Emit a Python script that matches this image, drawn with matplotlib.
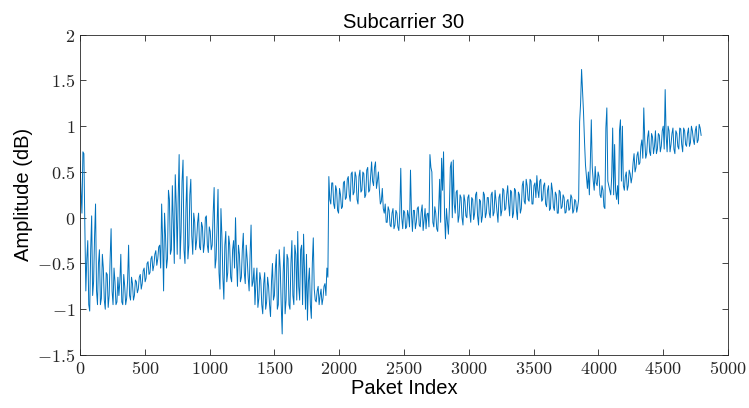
import numpy as np
import matplotlib.pyplot as plt
from matplotlib.ticker import FuncFormatter

# amplitude, one value every 15 packets ...
step = 15
amplitude = [
    0.62, 0.05, 0.70, -0.80, -0.25, -1.02, 0.02, -0.70, 0.15, -0.95,
    -0.35, -0.88, -0.55, -1.00, -0.62, -0.85, -0.12, -0.95, -0.70, -0.92,
    -0.85, -0.40, -0.95, -0.75, -0.88, -0.30, -0.90, -0.72, -0.85, -0.70,
    -0.78, -0.62, -0.72, -0.55, -0.66, -0.48, -0.60, -0.42, -0.52, -0.36,
    -0.45, -0.30, 0.15, -0.80, -0.20, -0.45, 0.20, -0.35, -0.05, 0.47,
    -0.40, 0.69, -0.15, 0.63, -0.50, 0.45, -0.30, 0.42, -0.40, -0.05,
    -0.25, 0.05, -0.35, -0.10, -0.28, 0.02, -0.38, -0.15, -0.30, 0.33,
    -0.45, 0.31, -0.78, -0.20, -0.89, -0.15, -0.60, -0.30, -0.70, -0.25,
    0.00, -0.75, -0.40, -0.65, -0.17, -0.72, -0.45, -0.80, -0.08, -0.70,
    -0.95, -0.55, -0.88, -0.68, -1.05, -0.60, -0.92, -0.75, -1.08, -0.50,
    -0.85, -0.40, -0.95, -0.55, -1.27, -0.32, -0.90, -0.45, -1.00, -0.25,
    -0.95, -0.40, -0.15, -0.90, -0.30, -0.18, -1.00, -1.12, -0.55, -1.10,
    -0.22, -0.90, -0.80, -0.95, -0.78, -0.88, -0.72, -0.55, 0.45, 0.15,
    0.38, 0.10, 0.30, 0.05, 0.25, 0.12, 0.40, 0.22, 0.45, 0.18,
    0.50, 0.28, 0.45, 0.15, 0.52, 0.30, 0.48, 0.25, 0.55, 0.30,
    0.61, 0.35, 0.61, 0.40, 0.30, 0.18, 0.10, 0.15, -0.05, 0.08,
    -0.10, 0.10, -0.08, 0.05, -0.14, 0.54, -0.12, 0.06, -0.10, 0.02,
    0.52, -0.15, 0.08, -0.05, 0.12, -0.10, 0.14, -0.02, -0.12, 0.05,
    0.69, 0.50, -0.10, 0.05, -0.15, 0.42, 0.65, 0.72, -0.23, -0.05,
    0.10, 0.61, 0.63, 0.05, 0.30, 0.02, 0.22, -0.08, 0.18, 0.00,
    0.25, -0.05, 0.20, 0.05, 0.28, -0.08, 0.18, 0.02, 0.25, 0.05,
    0.22, 0.00, 0.28, 0.06, 0.18, -0.05, 0.26, 0.08, 0.30, 0.10,
    0.35, 0.02, 0.28, 0.05, 0.30, -0.02, 0.25, 0.10, 0.40, 0.15,
    0.35, 0.18, 0.40, 0.15, 0.38, 0.46, 0.22, 0.42, 0.20, 0.38,
    0.12, 0.35, 0.10, 0.30, 0.08, 0.25, 0.05, 0.28, 0.12, 0.22,
    0.06, 0.20, 0.10, 0.22, 0.08, 0.18, 0.12, 1.05, 1.62, 1.15,
    0.58, 0.32, 0.25, 1.07, 0.40, 0.56, 0.35, 0.45, 0.22, 0.30,
    0.10, 1.20, 0.35, 0.25, 0.98, 0.80, 0.20, 0.15, 1.07, 1.00,
    0.30, 0.50, 0.35, 0.48, 0.45, 0.70, 0.55, 0.72, 0.60, 0.85,
    1.20, 0.65, 0.88, 0.72, 0.92, 0.70, 0.95, 0.75, 0.90, 0.78,
    1.00, 1.40, 0.72, 0.95, 0.80, 0.98, 0.70, 0.92, 0.75, 0.97,
    0.72, 0.95, 0.78, 0.98, 0.82, 0.95, 0.80, 1.00, 0.85, 0.98,
]
# ... and the values half way between them
amplitude_mid = [
    0.30, 0.72, -0.10, -0.45, -0.95, -0.35, -0.85, -0.20, -0.80, -0.50,
    -0.95, -0.40, -0.90, -0.60, -0.98, -0.45, -0.80, -0.55, -0.95, -0.65,
    -0.70, -0.92, -0.62, -0.95, -0.68, -0.85, -0.65, -0.90, -0.68, -0.82,
    -0.65, -0.78, -0.58, -0.70, -0.50, -0.62, -0.45, -0.58, -0.40, -0.52,
    -0.32, -0.55, -0.25, 0.05, -0.55, 0.30, -0.40, 0.35, -0.50, 0.15,
    0.20, -0.45, 0.40, -0.35, 0.10, -0.45, 0.25, -0.20, 0.05, -0.35,
    -0.05, -0.32, -0.05, -0.38, 0.00, -0.30, -0.10, -0.35, 0.05, -0.55,
    -0.10, -0.60, 0.10, -0.65, -0.30, -0.70, -0.20, -0.65, -0.35, -0.55,
    -0.45, -0.30, -0.70, -0.35, -0.60, -0.30, -0.65, -0.40, -0.75, -0.55,
    -0.70, -0.98, -0.60, -0.95, -0.72, -1.00, -0.65, -0.95, -0.70, -0.90,
    -0.55, -1.00, -0.35, -0.95, -0.60, -1.05, -0.40, -0.95, -0.50, -0.85,
    -0.30, -0.90, -0.75, -0.35, -0.95, -0.60, -0.40, -0.70, -0.95, -0.50,
    -0.78, -0.92, -0.75, -0.85, -0.95, -0.75, -0.85, -0.65, 0.20, 0.38,
    0.15, 0.35, 0.08, 0.32, 0.10, 0.38, 0.20, 0.42, 0.25, 0.48,
    0.25, 0.50, 0.20, 0.45, 0.28, 0.50, 0.22, 0.52, 0.28, 0.45,
    0.40, 0.55, 0.32, 0.50, 0.15, 0.32, 0.05, -0.05, 0.12, -0.08,
    0.05, -0.12, 0.08, -0.10, 0.06, 0.00, 0.08, -0.12, 0.08, -0.10,
    0.05, 0.08, -0.12, 0.10, -0.08, 0.06, -0.14, 0.10, 0.04, -0.10,
    0.55, -0.05, 0.12, -0.12, 0.10, -0.05, 0.30, 0.05, 0.10, -0.18,
    0.55, 0.00, 0.15, 0.28, -0.05, 0.25, 0.00, 0.25, 0.02, 0.22,
    0.05, 0.22, -0.02, 0.25, 0.02, 0.20, -0.05, 0.28, 0.00, 0.22,
    0.05, 0.25, 0.02, 0.30, 0.05, 0.22, 0.02, 0.32, 0.08, 0.25,
    0.15, 0.30, 0.00, 0.32, 0.08, 0.28, 0.05, 0.35, 0.18, 0.42,
    0.20, 0.42, 0.15, 0.35, 0.22, 0.30, 0.40, 0.18, 0.35, 0.15,
    0.30, 0.08, 0.38, 0.12, 0.28, 0.05, 0.30, 0.10, 0.25, 0.05,
    0.18, 0.08, 0.25, 0.05, 0.20, 0.06, 0.20, 1.25, 1.38, 0.84,
    0.45, 0.50, 0.60, 0.55, 0.30, 0.38, 0.50, 0.25, 0.35, 0.12,
    0.98, 0.40, 0.30, 0.45, 0.25, 0.30, 0.35, 0.95, 0.40, 0.35,
    0.45, 0.30, 0.52, 0.38, 0.60, 0.50, 0.68, 0.58, 0.78, 0.65,
    0.85, 0.70, 0.95, 0.68, 0.88, 0.78, 0.70, 0.92, 0.72, 0.95,
    0.75, 0.90, 1.00, 0.72, 0.92, 0.75, 0.95, 0.78, 0.98, 0.80,
    0.98, 0.80, 0.92, 0.78, 1.00, 0.85, 0.95, 0.82, 1.02, 0.90,
]
x_ticks = [0, 500, 1000, 1500, 2000, 2500, 3000, 3500, 4000, 4500, 5000]
y_ticks = [-1.5, -1, -0.5, 0, 0.5, 1, 1.5, 2]

plt.rcParams['mathtext.fontset'] = 'cm'
y = np.column_stack([amplitude, amplitude_mid]).ravel()
packet = np.arange(len(y)) * step / 2

fig = plt.figure(figsize=(7.49, 4.08), dpi=100)
ax = fig.add_axes([0.1068, 0.1299, 0.8652, 0.7851])
ax.plot(packet, y, color='#0072BD', linewidth=0.7)

ax.set_xlim(0, 5000)
ax.set_ylim(-1.5, 2)
ax.set_xticks(x_ticks)
ax.set_yticks(y_ticks)
fmt = FuncFormatter(lambda v, p: '$%g$' % v)
ax.xaxis.set_major_formatter(fmt)
ax.yaxis.set_major_formatter(fmt)
ax.tick_params(direction='in', top=True, right=True, length=4,
               labelsize=13, colors='#262626', width=0.6)
for s in ax.spines.values():
    s.set_color('#262626')
    s.set_linewidth(0.6)

ax.set_title('Subcarrier 30', fontsize=14.5, family='Liberation Sans', pad=5)
ax.set_xlabel('Paket Index', fontsize=14.5, family='Liberation Sans', labelpad=1)
ax.set_ylabel('Amplitude (dB)', fontsize=14.5, family='Liberation Sans', labelpad=3)

fig.savefig('out.png', dpi=100)
